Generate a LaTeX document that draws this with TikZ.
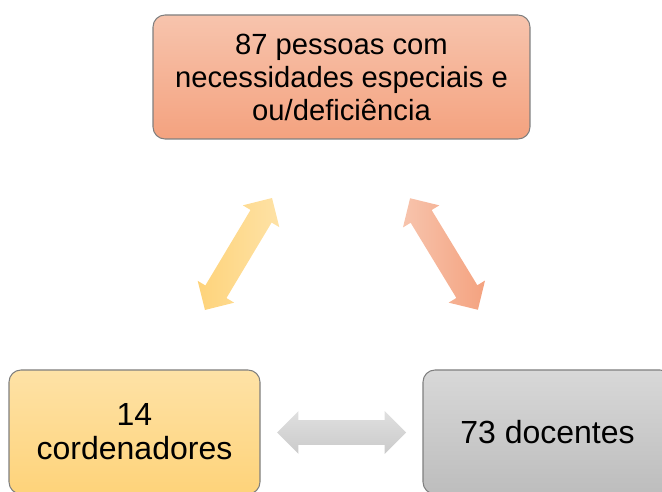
\documentclass[tikz,border=0pt]{standalone}
\usepackage{fontspec}
\setmainfont{Liberation Sans}
\usetikzlibrary{shapes.arrows}
\definecolor{salT}{HTML}{F7C4AD}
\definecolor{salB}{HTML}{F4A27F}
\definecolor{yelT}{HTML}{FEE2A6}
\definecolor{yelB}{HTML}{FED37A}
\definecolor{grT}{HTML}{D8D8D8}
\definecolor{grB}{HTML}{BDBDBD}
\definecolor{edge}{HTML}{7F7F7F}
\begin{document}
\begin{tikzpicture}[x=0.75pt,y=-0.75pt,
  box/.style={rounded corners=9pt, draw=edge, line width=0.8pt, align=center,
    inner sep=0pt, minimum height=93pt, font=\fontsize{21.9}{24.75}\selectfont},
  bigtext/.style={font=\fontsize{24}{25.5}\selectfont},
  darrow/.style={double arrow, draw=none, minimum height=97.9pt, minimum width=31.5pt,
    double arrow head extend=6.75pt, double arrow tip angle=90, inner sep=0pt}]
\useasboundingbox (0,0) rectangle (662,492);
\begin{scope}
\clip (0,0) rectangle (662,492);
\node[box, minimum width=282.75pt, top color=salT, bottom color=salB] (top) at (341.5,77)
  {87 pessoas com\\necessidades especiais e\\ou/deficiência};
\node[box, bigtext, minimum width=188.25pt, top color=yelT, bottom color=yelB] (coord) at (134.5,432)
  {14\\cordenadores};
\node[box, bigtext, minimum width=186.75pt, top color=grT, bottom color=grB] (doc) at (547.5,432)
  {73 docentes};
\node[darrow, rotate=59.1, left color=yelB, right color=yelT] (a1) at (238.5,254) {\rule{0pt}{18pt}};
\node[darrow, rotate=-58.7, left color=salT, right color=salB] (a2) at (444,254) {\rule{0pt}{18pt}};
\node[darrow, top color=grT!80!white, bottom color=grB!80!white, minimum height=96.75pt] (a3) at (341.5,432.5) {\rule{0pt}{18pt}};
\end{scope}
\end{tikzpicture}
\end{document}
